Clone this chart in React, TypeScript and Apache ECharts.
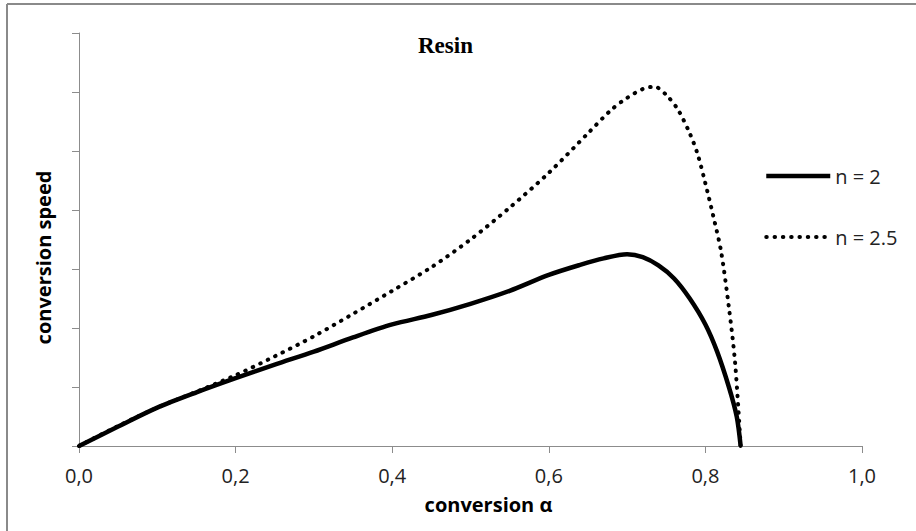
import React, { useEffect, useRef } from "react";
import * as echarts from "echarts";

const xTickLabels = ["0,0", "0,2", "0,4", "0,6", "0,8", "1,0"];

const seriesN2: [number, number][] = [
  [0, 0], [0.05, 0.33], [0.1, 0.65], [0.15, 0.91], [0.2, 1.15], [0.25, 1.38],
  [0.3, 1.6], [0.35, 1.84], [0.4, 2.06], [0.45, 2.22], [0.5, 2.41], [0.55, 2.63],
  [0.6, 2.9], [0.64, 3.07], [0.67, 3.18], [0.7, 3.25], [0.72, 3.2], [0.74, 3.06],
  [0.76, 2.84], [0.78, 2.5], [0.8, 2.06], [0.815, 1.6], [0.83, 1.0], [0.84, 0.5],
  [0.845, 0],
];

const seriesN25: [number, number][] = [
  [0, 0], [0.05, 0.34], [0.1, 0.65], [0.15, 0.92], [0.2, 1.2], [0.25, 1.52],
  [0.3, 1.86], [0.35, 2.24], [0.4, 2.63], [0.45, 3.03], [0.5, 3.5], [0.55, 4.04],
  [0.6, 4.63], [0.65, 5.3], [0.68, 5.7], [0.7, 5.9], [0.72, 6.05], [0.735, 6.09],
  [0.75, 5.95], [0.765, 5.7], [0.78, 5.3], [0.79, 4.95], [0.8, 4.45], [0.81, 3.9],
  [0.82, 3.3], [0.83, 2.35], [0.838, 1.4], [0.845, 0],
];

const seriesNames = ["n = 2", "n = 2.5"];

export default function App() {
  const ref = useRef<HTMLDivElement>(null);
  useEffect(() => {
    if (!ref.current) return;
    const chart = echarts.init(ref.current, undefined, { renderer: "svg" });
    const labelFont = "'Open Sans', 'Noto Sans', sans-serif";
    const solidStyle = { color: "#000", width: 4.5 };
    const dotStyle = { color: "#000", width: 4, type: [0.5, 7.8], cap: "round" };
    chart.setOption({
      animation: false,
      backgroundColor: "#fff",
      title: {
        text: "Resin",
        left: 413,
        top: 29,
        textStyle: {
          fontFamily: "'Liberation Serif', 'DejaVu Serif', serif",
          fontWeight: "bold",
          fontSize: 23,
          color: "#000",
        },
      },
      legend: {
        orient: "vertical",
        left: 759,
        top: 161,
        itemGap: 41,
        itemWidth: 64,
        itemHeight: 20,
        itemStyle: { opacity: 0 },
        data: [
          { name: seriesNames[0], lineStyle: { width: 4.5, color: "#000" } },
          { name: seriesNames[1], lineStyle: { width: 4, color: "#000", type: [0.5, 7.8], cap: "round" } },
        ],
        textStyle: { fontFamily: labelFont, fontSize: 20, color: "#222" },
      },
      grid: { left: 79, right: 54, top: 33, bottom: 85 },
      xAxis: {
        type: "value",
        min: 0,
        max: 1,
        interval: 0.2,
        name: "conversion α",
        nameLocation: "middle",
        nameGap: 48,
        nameTextStyle: {
          fontFamily: labelFont,
          fontWeight: "bold",
          fontSize: 20,
          color: "#000",
          padding: [0, 0, 0, 36],
        },
        axisLine: { show: true, lineStyle: { color: "#8c8c8c", width: 1 } },
        axisTick: { show: true, length: 7, inside: false, lineStyle: { color: "#8c8c8c" } },
        axisLabel: {
          fontFamily: labelFont,
          fontSize: 20,
          color: "#222",
          margin: 19,
          formatter: (v: number) => xTickLabels[Math.round(v * 5)] ?? "",
        },
        splitLine: { show: false },
      },
      yAxis: {
        type: "value",
        min: 0,
        max: 7,
        interval: 1,
        name: "conversion speed",
        nameLocation: "middle",
        nameGap: 26,
        nameTextStyle: {
          fontFamily: labelFont,
          fontWeight: "bold",
          fontSize: 20,
          color: "#000",
          padding: [0, 36, 0, 0],
        },
        axisLine: { show: true, lineStyle: { color: "#8c8c8c", width: 1 } },
        axisTick: { show: true, length: 7, inside: false, lineStyle: { color: "#8c8c8c" } },
        axisLabel: { show: false },
        splitLine: { show: false },
      },
      series: [
        {
          name: seriesNames[0],
          type: "line",
          data: seriesN2,
          smooth: 0.3,
          showSymbol: false,
          symbol: "none",
          lineStyle: solidStyle,
          itemStyle: { color: "#000" },
          z: 3,
        },
        {
          name: seriesNames[1],
          type: "line",
          data: seriesN25,
          smooth: 0.3,
          showSymbol: false,
          symbol: "none",
          lineStyle: dotStyle,
          itemStyle: { color: "#000" },
          z: 2,
        },
      ],
      graphic: [
        { type: "line", shape: { x1: 7, y1: 4, x2: 916, y2: 4 }, style: { stroke: "#8a8a8a", lineWidth: 2 } },
        { type: "line", shape: { x1: 7, y1: 4, x2: 7, y2: 531 }, style: { stroke: "#8a8a8a", lineWidth: 2 } },
      ],
    });
    return () => chart.dispose();
  }, []);
  return (
    <div
      ref={ref}
      style={{ position: "absolute", left: 0, top: 0, width: 916, height: 531 }}
    />
  );
}
